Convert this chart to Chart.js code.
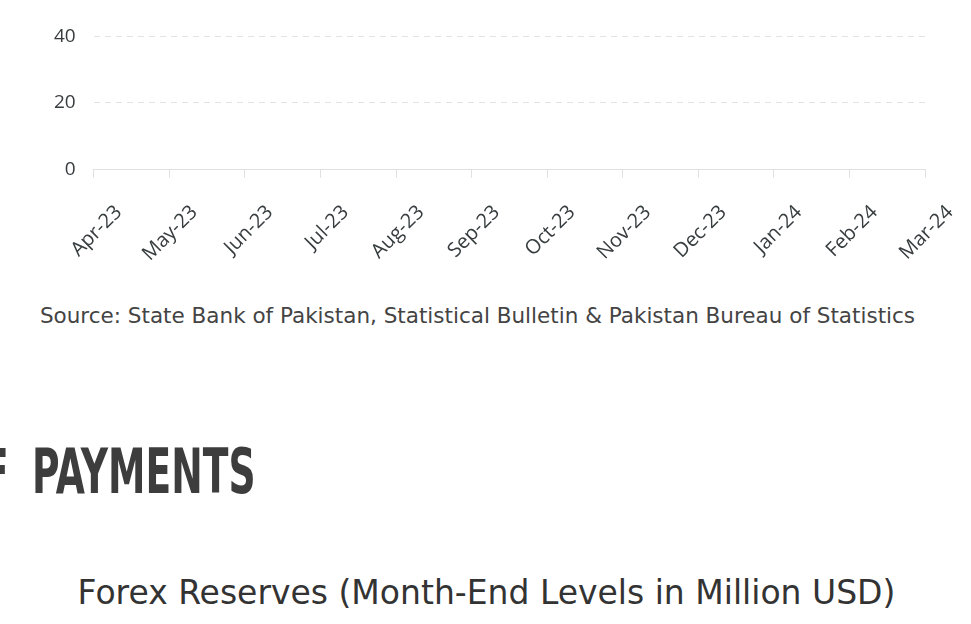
<!DOCTYPE html>
<html>
<head>
<meta charset="utf-8">
<script src="https://cdn.jsdelivr.net/npm/chart.js@4"></script>
<style>
  html, body { margin: 0; padding: 0; background: #fff; width: 971px; height: 624px; overflow: hidden; }
  #wrap { position: absolute; left: 0; top: -60px; width: 971px; height: 349px; }
  .source { position: absolute; left: 0; width: 955px; top: 303px; text-align: center;
    font-family: "DejaVu Sans", sans-serif; font-size: 21.5px; color: #444; white-space: nowrap; }
  .heading { position: absolute; left: -17px; top: 435px; margin: 0; white-space: nowrap;
    font-family: "DejaVu Sans Condensed", "DejaVu Sans", sans-serif; font-weight: bold;
    font-size: 62px; color: #3d3d3d; word-spacing: 15px;
    transform: scaleX(0.675); transform-origin: left top; }
  .title { position: absolute; left: 0; width: 973px; top: 573px; text-align: center;
    font-family: "DejaVu Sans", sans-serif; font-size: 33px; color: #333; white-space: nowrap; }
</style>
</head>
<body>
<div id="wrap"><canvas id="diagram"></canvas></div>
<div class="source">Source: State Bank of Pakistan, Statistical Bulletin &amp; Pakistan Bureau of Statistics</div>
<h2 class="heading">F PAYMENTS</h2>
<div class="title">Forex Reserves (Month-End Levels in Million USD)</div>
<script>
const months = ["Apr-23", "May-23", "Jun-23", "Jul-23", "Aug-23", "Sep-23",
    "Oct-23", "Nov-23", "Dec-23", "Jan-24", "Feb-24", "Mar-24"];
// nothing is plotted in the visible part of the reference
const values = [null, null, null, null, null, null, null, null, null, null, null, null];
const yTicks = [0, 20, 40, 60];

const ctx = document.getElementById("diagram");

new Chart(ctx, {
    type: "line",
    data: {
        labels: months,
        datasets: [
            {
                label: "Series",
                data: values,
                borderColor: "#008ffb",
                borderWidth: 2,
            },
        ],
    },
    options: {
        responsive: true,
        maintainAspectRatio: false,
        animation: false,
        layout: { padding: { left: 36, right: 46, top: 0, bottom: 0 } },
        plugins: {
            legend: { display: false },
            tooltip: { enabled: false },
        },
        scales: {
            x: {
                offset: false,
                grid: {
                    drawOnChartArea: false,
                    drawTicks: true,
                    tickLength: 8,
                    color: "#e0e0e0",
                },
                border: { color: "#e0e0e0" },
                ticks: {
                    minRotation: 45,
                    maxRotation: 45,
                    color: "#373d3f",
                    font: { family: "Open Sans", size: 20 },
                    padding: 23,
                    labelOffset: 25,
                },
            },
            y: {
                min: yTicks[0],
                max: yTicks[yTicks.length - 1],
                afterBuildTicks: (axis) => {
                    axis.ticks = yTicks.map((v) => ({ value: v }));
                },
                grid: {
                    drawTicks: false,
                    color: "#e3e3e3",
                },
                border: { display: false, dash: [6, 5] },
                ticks: {
                    color: "#373d3f",
                    font: { family: "Open Sans", size: 19 },
                    padding: 18,
                },
            },
        },
    },
});
</script>
</body>
</html>
